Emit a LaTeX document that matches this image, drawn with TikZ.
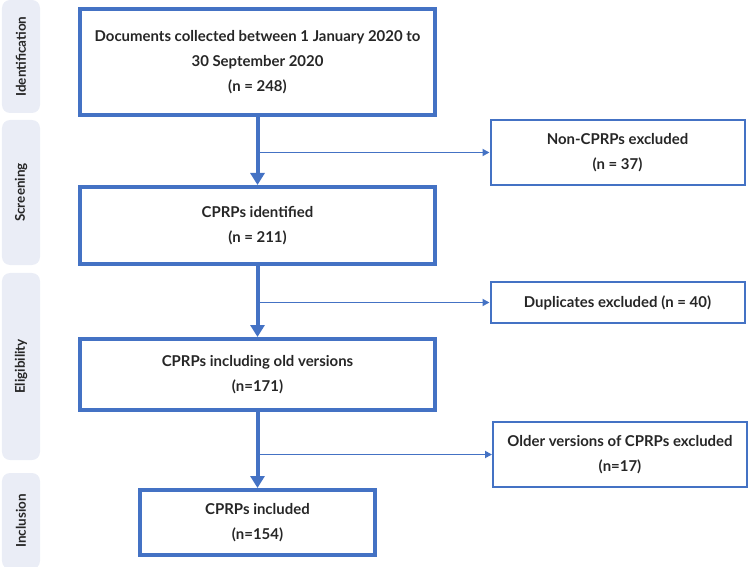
\documentclass[tikz,border=0pt]{standalone}
\usepackage{fontspec}
\setmainfont{Lato}
\usepackage{tikz}
\usetikzlibrary{arrows.meta,positioning}
\definecolor{flowblue}{HTML}{4472C4}
\definecolor{stagefill}{HTML}{EAEDF6}
\definecolor{flowtext}{HTML}{262626}
\tikzset{
	mainbox/.style={draw=flowblue,line width=4bp,align=center,text=flowtext,
		font=\fontsize{15}{25}\selectfont\bfseries},
	sidebox/.style={draw=flowblue,line width=2bp,align=center,text=flowtext,
		minimum width=254bp,font=\fontsize{15}{25}\selectfont\bfseries},
	stage/.style={fill=stagefill,rounded corners=8bp,rotate=90,minimum height=38bp,
		text=flowtext,font=\fontsize{13.5}{15}\selectfont\bfseries},
	mainarrow/.style={draw=flowblue,line width=4bp,-{Triangle[width=14bp,length=12bp]}},
	sidearrow/.style={draw=flowblue,line width=1.8bp,-{Triangle[width=7bp,length=7bp]}}
}

\begin{document}
\begin{tikzpicture}[x=1bp,y=-1bp]
		\useasboundingbox (0,0) rectangle (750,567);
		% stages on the left
		\node(sid) at (21,56.5) [stage,minimum width=113bp] {Identification};
		\node(sscr) at (21,192.5) [stage,minimum width=145bp] {Screening};
		\node(selig) at (21,366.5) [stage,minimum width=187bp] {Eligibility};
		\node(sincl) at (21,521) [stage,minimum width=96bp] {Inclusion};
		% main flow
		\node(docs) at (257.5,62) [mainbox,minimum width=355bp,minimum height=106bp]
			{Documents collected between 1 January 2020 to\\30 September 2020\\(n = 248)};
		\node(ident) at (257.5,225.5) [mainbox,minimum width=355bp,minimum height=77bp]
			{CPRPs identified\\(n = 211)};
		\node(oldver) at (257.5,374.5) [mainbox,minimum width=355bp,minimum height=71bp]
			{CPRPs including old versions\\(n=171)};
		\node(incl) at (257.5,522.5) [mainbox,minimum width=235bp,minimum height=65bp]
			{CPRPs included\\(n=154)};
		% exclusions
		\node(noncprp) at (617.5,152.5) [sidebox,minimum height=65bp]
			{Non-CPRPs excluded\\(n = 37)};
		\node(dupl) at (617.5,302.5) [sidebox,minimum height=41bp]
			{Duplicates excluded (n = 40)};
		\node(older) at (620,454.5) [sidebox,minimum height=65bp]
			{Older versions of CPRPs excluded\\(n=17)};
		\draw[mainarrow] (docs) -- (ident);
		\draw[mainarrow] (ident) -- (oldver);
		\draw[mainarrow] (oldver) -- (incl);
		\draw[sidearrow] (docs.south |- noncprp.west) -- (noncprp.west);
		\draw[sidearrow] (ident.south |- dupl.west) -- (dupl.west);
		\draw[sidearrow] (oldver.south |- older.west) -- (older.west);
	\end{tikzpicture}
\end{document}
